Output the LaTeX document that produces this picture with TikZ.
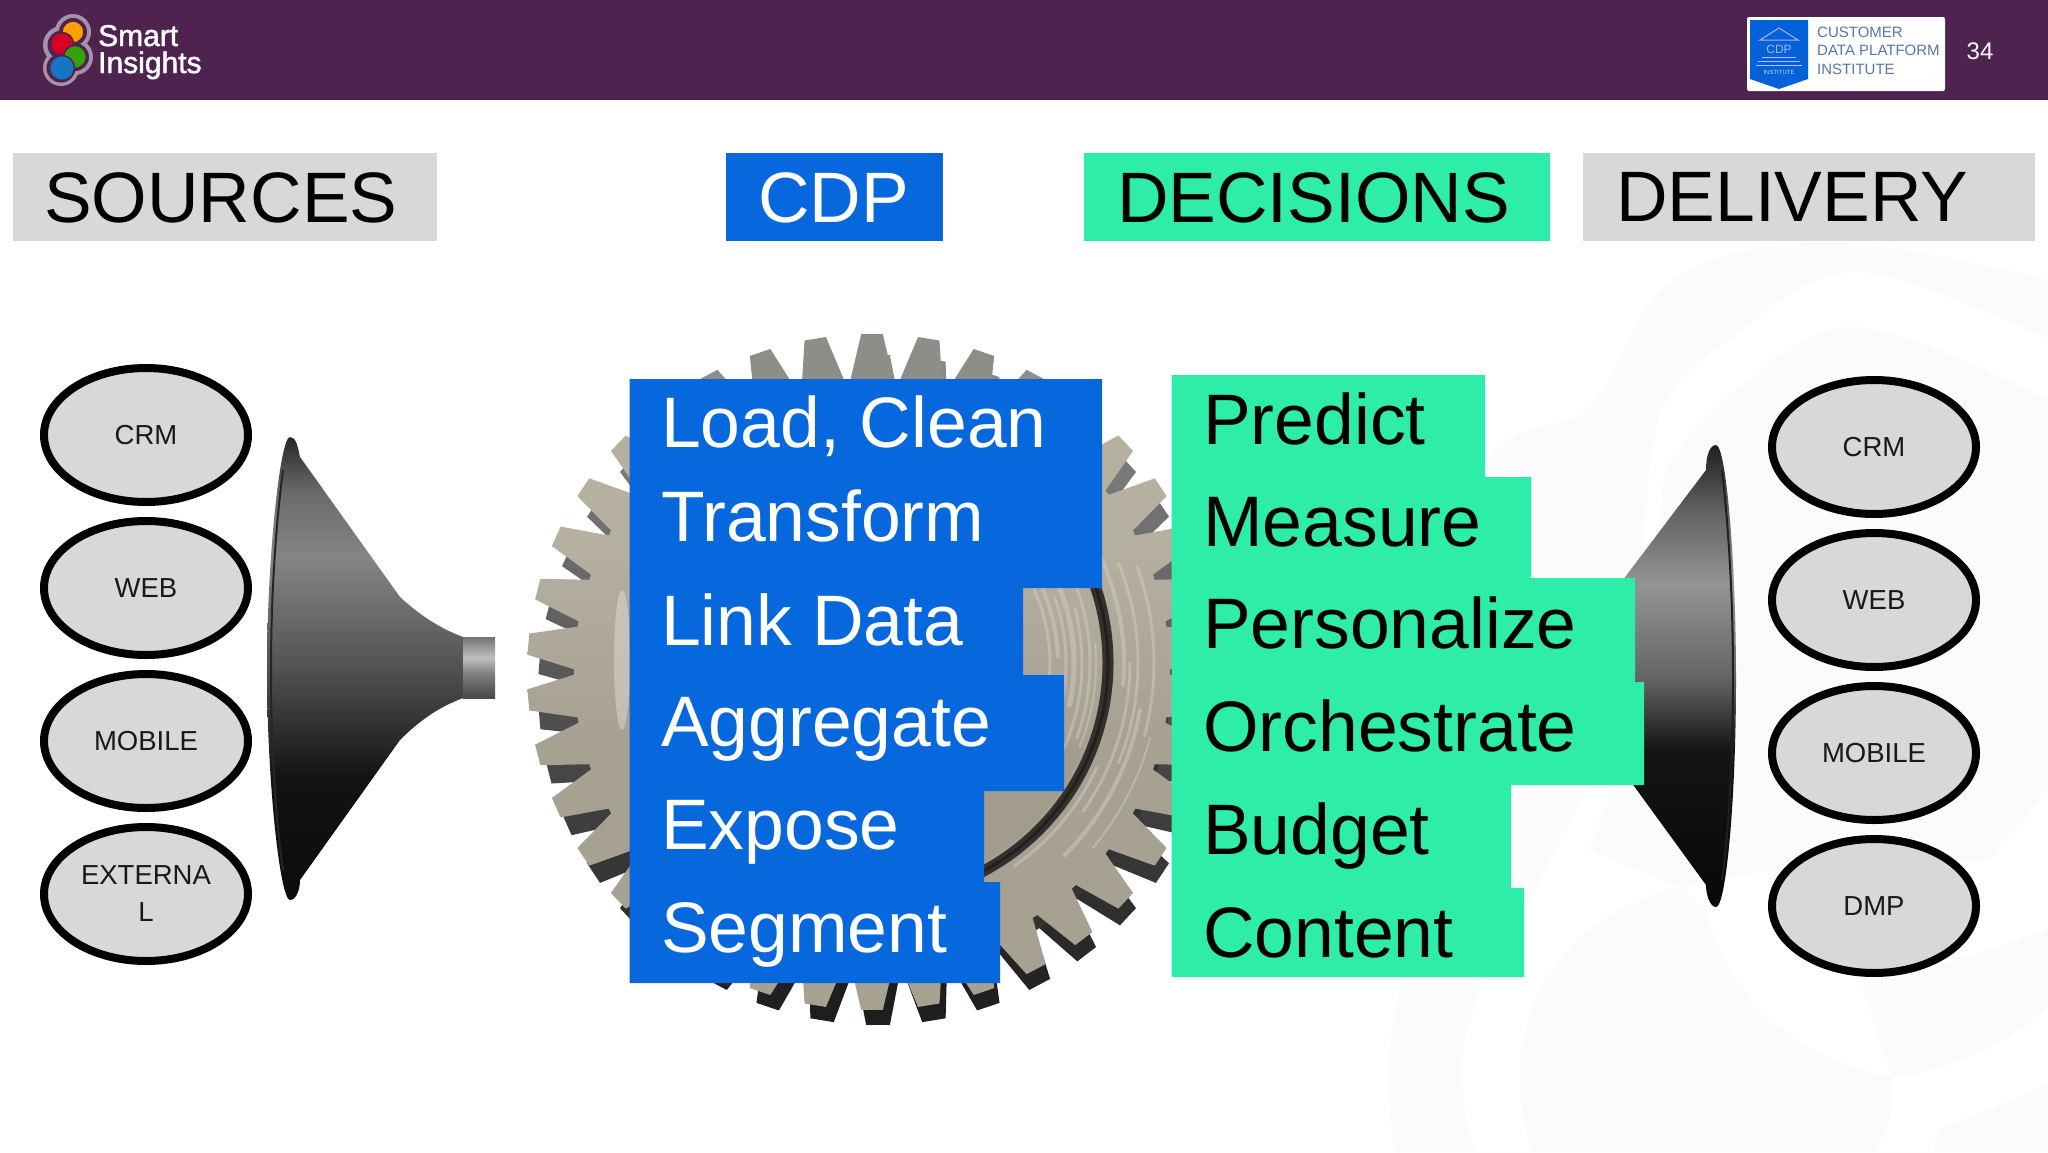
\documentclass[tikz,border=0pt]{standalone}
\usepackage{fontspec}
\setmainfont{Liberation Sans}
\newfontfamily\logofont[FakeBold=1.5]{Liberation Sans}
\usetikzlibrary{shapes.geometric}
\definecolor{headerc}{HTML}{4F2350}
\definecolor{boxgrey}{HTML}{D9D7DA}
\definecolor{cdpblue}{HTML}{0768DD}
\definecolor{decgreen}{HTML}{2DEDA8}
\definecolor{faint}{HTML}{FBFAFC}
\definecolor{logotext}{HTML}{5577AC}
\pgfdeclareverticalshading{funnelL}{100bp}{color(0bp)=(black!95);color(25bp)=(black!95);color(38bp)=(black!93);color(50bp)=(black!68);color(62bp)=(black!48);color(69bp)=(black!58);color(75bp)=(black!85);color(100bp)=(black!85)}
\pgfdeclareverticalshading{funnelR}{100bp}{color(0bp)=(black!97);color(25bp)=(black!97);color(42bp)=(black!92);color(50bp)=(black!60);color(60bp)=(black!42);color(68bp)=(black!62);color(75bp)=(black!88);color(100bp)=(black!88)}
\pgfdeclareverticalshading{spout}{100bp}{color(0bp)=(black!72);color(25bp)=(black!72);color(45bp)=(black!50);color(58bp)=(black!25);color(75bp)=(black!55);color(100bp)=(black!55)}
\definecolor{geartan}{HTML}{B6B0A0}
\definecolor{gearlow}{HTML}{A7A192}
\definecolor{geartop}{HTML}{8E8D88}
\pgfdeclareverticalshading{gearface}{100bp}{color(0bp)=(gearlow);color(25bp)=(gearlow);color(45bp)=(gearlow);color(60bp)=(geartan);color(69bp)=(geartan);color(71bp)=(geartop);color(75bp)=(geartop);color(100bp)=(geartop)}
\tikzset{
  titlebox/.style={minimum height=88pt,inner sep=0pt,anchor=north west,font=\fontsize{71.4}{72}\selectfont,text depth=0pt},
  listtext/.style={anchor=base west,inner sep=0pt,font=\fontsize{71.5}{72}\selectfont},
  bubble/.style={ellipse,draw=black,line width=8pt,fill=boxgrey,minimum width=204pt,minimum height=134pt,inner sep=0pt,align=center,font=\fontsize{27.5}{37}\selectfont,text=black!90},
  logotxt/.style={anchor=base west,inner sep=0pt,text=logotext,font=\fontsize{15}{15}\selectfont},
  halo/.style={circle,fill=white!50!headerc,inner sep=0pt},
  halodark/.style={circle,fill=headerc,inner sep=0pt},
  dot/.style={circle,draw=headerc,line width=1.5pt,inner sep=0pt},
  brandtext/.style={anchor=base west,inner sep=0pt,text=white,font=\logofont\fontsize{30}{30}\selectfont},
}
\begin{document}
\begin{tikzpicture}[x=1pt,y=-1pt]
\useasboundingbox (0,0) rectangle (2048,1152);
\fill[white] (0,0) rectangle (2048,1152);
% watermark
\begin{scope}
\clip (0,100) rectangle (2048,1152);
\fill[faint] plot[smooth,tension=.6] coordinates {(1395,1152) (1388,1070) (1401,980) (1440,760) (1483,472) (1590,406) (1672,281) (1830,242) (2048,280)} -- (2048,1152) -- cycle;
\fill[white] plot[smooth,tension=.6] coordinates {(1475,1152) (1461,1070) (1484,980) (1540,880) (1620,700) (1652,455) (1669,397) (1730,339) (1855,272) (2048,339)} -- (2048,1152) -- cycle;
\fill[faint] plot[smooth,tension=.6] coordinates {(1665,470) (1730,395) (1855,327) (2048,400)} -- (2048,790) -- (1990,860) -- (1770,870) -- (1706,883) -- (1680,887) -- (1590,850) -- (1640,700) -- cycle;
\fill[faint] (1532,1152) .. controls (1510,1090) and (1517,1010) .. (1560,960) .. controls (1590,920) and (1640,895) .. (1680,887) -- (1706,913) .. controls (1730,1000) and (1800,1060) .. (1891,1077) .. controls (1895,1110) and (1885,1135) .. (1875,1152) -- cycle;
\fill[faint] (1862,983) -- (1891,1077) .. controls (1920,1075) and (1990,1060) .. (2048,1007) -- (2048,930) -- (1960,960) -- cycle;
\fill[faint] (1933,1152) .. controls (1935,1140) and (1938,1135) .. (1942,1127) .. controls (1980,1115) and (2015,1100) .. (2048,1083) -- (2048,1152) -- cycle;
\end{scope}
% header
\fill[headerc] (0,0) rectangle (2048,100);
\node[halo,minimum size=36pt] (halo1) at (73,32) {};
\node[halo,minimum size=38pt] (halo2) at (62,45) {};
\node[halo,minimum size=36pt] (halo3) at (75,57) {};
\node[halo,minimum size=36pt] (halo4) at (61,68) {};
\node[halodark,minimum size=28pt] (dark1) at (73,32) {};
\node[halodark,minimum size=29pt] (dark2) at (62,45) {};
\node[halodark,minimum size=28pt] (dark3) at (75,57) {};
\node[halodark,minimum size=29pt] (dark4) at (61,68) {};
\node[dot,fill=orange!75!yellow,minimum size=22pt] (dotO) at (73,32) {};
\node[dot,fill=red!85!blue,minimum size=23pt] (dotR) at (62,44) {};
\node[dot,fill=green!55!black!80!yellow,minimum size=23pt] (dotG) at (75,57) {};
\node[dot,fill=cyan!55!blue,minimum size=25pt] (dotB) at (62,68) {};
\node[brandtext] (smart) at (98,46) {Smart};
\node[brandtext] (insights) at (98,73) {Insights};
\fill[white,rounded corners=2pt] (1747,17) rectangle (1945,91);
\fill[blue!55!cyan!85!black] (1750,20) -- (1808,20) -- (1808,79) -- (1779,89) -- (1750,79) -- cycle;
\draw[white!70!blue,line width=1pt] (1779,28) -- (1798,40) -- (1760,40) -- cycle;
\draw[white!75!blue,line width=1pt] (1762,57) -- (1796,57) (1758,61) -- (1800,61) (1756,65) -- (1802,65);
\node[inner sep=0pt,text=white!70!blue,font=\fontsize{12}{12}\selectfont] (cdpicon) at (1779,49) {CDP};
\node[inner sep=0pt,text=white!80!blue,font=\fontsize{6}{6}\selectfont] (cdpinst) at (1779,72) {INSTITUTE};
\node[logotxt] (lg1) at (1817,37) {CUSTOMER};
\node[logotxt] (lg2) at (1817,55) {DATA PLATFORM};
\node[logotxt] (lg3) at (1817,74) {INSTITUTE};
\node[anchor=center,inner sep=0pt,text=white,font=\fontsize{24}{24}\selectfont] (pageno) at (1980,51) {34};
% titles
\node[titlebox,fill=boxgrey,minimum width=424pt,text width=392pt] (tSources) at (13,153) {\hspace*{15pt}SOURCES};
\node[titlebox,fill=cdpblue,text=white,minimum width=217pt,text width=185pt] (tCdp) at (726,153) {\hspace*{16pt}CDP};
\node[titlebox,fill=decgreen,minimum width=466pt,text width=434pt] (tDecisions) at (1084,153) {\hspace*{17pt}DECISIONS};
\node[titlebox,fill=boxgrey,minimum width=452pt,text width=420pt] (tDelivery) at (1583,153) {\hspace*{17pt}DELIVERY};
% gear: back teeth
\begin{scope}[shift={(878,690)}]
\foreach \i in {0,...,37}{
  \pgfmathsetmacro{\ga}{90+\i*360/38}
  \pgfmathtruncatemacro{\gv}{138-108*(1+sin(\ga))/2}
  \definecolor{tc}{RGB}{\gv,\gv,\gv}
  \fill[tc] ({\ga-4.3}:290 and 285) -- ({\ga-2}:340 and 335) -- ({\ga+2}:340 and 335) -- ({\ga+4.3}:290 and 285) -- cycle;
}
\fill[black!80] (0,0) ellipse (291 and 286);
\end{scope}
% gear: face
\begin{scope}[shift={(872,672)}]
\shade[shading=gearface] ({90-4.2}:298 and 292) \foreach \i in {0,...,37}{
   -- ({90+\i*360/38-4.2}:298 and 292) -- ({90+\i*360/38-1.8}:345 and 338) -- ({90+\i*360/38+1.8}:345 and 338) -- ({90+\i*360/38+4.2}:298 and 292)
  } -- cycle;
\end{scope}
\fill[white,opacity=.3] (622,660) ellipse (8 and 70);
% gear: brushed streaks and groove
\begin{scope}[shift={(872,663)},line cap=round]
\fill[gearlow!97!black] (0,0) ++(22:228) arc[start angle=22,end angle=78,radius=228] -- (0,0) -- cycle;
\foreach \r/\sa/\sb/\w in {178/-25/15/3,186/-30/-2/4,194/-20/25/3,202/-28/12/5,210/-15/30/3,218/-30/20/3,224/-5/22/2,252/-25/5/4,258/0/35/3,266/-22/22/3,272/10/45/4,282/-20/15/3,288/15/40/2,248/25/55/3}
  \draw[white!40!geartan,line width=\w pt,opacity=.45] (\sa:\r) arc[start angle=\sa,end angle=\sb,radius=\r];
\draw[black!72!geartan,line width=11pt] (0,0) circle (236);
\draw[black!82!geartan,line width=3pt] (0,0) circle (236);
\end{scope}
% funnels
\shade[shading=funnelL] (290,437) .. controls (280,437) and (267,560) .. (267,670) .. controls (267,780) and (280,900) .. (290,900) .. controls (296,900) and (300,890) .. (300,880) -- (400,740) .. controls (425,715) and (445,705) .. (463,698) -- (463,637) .. controls (445,630) and (425,620) .. (400,597) -- (300,457) .. controls (298,447) and (296,437) .. (290,437) -- cycle;
\draw[black!85,line width=2pt] (283,470) .. controls (274,540) and (271,610) .. (271,670) .. controls (271,730) and (274,810) .. (283,870);
\shade[shading=spout] (463,637) -- (495,637) -- (495,698) -- (463,698) -- cycle;
\shade[shading=funnelR] (1716,445) .. controls (1726,445) and (1736,560) .. (1736,680) .. controls (1736,800) and (1726,907) .. (1716,907) .. controls (1710,907) and (1706,895) .. (1706,885) -- (1610,753) -- (1610,597) -- (1706,470) .. controls (1706,455) and (1710,445) .. (1716,445) -- cycle;
\draw[black!88,line width=2pt] (1722,470) .. controls (1730,540) and (1733,610) .. (1733,680) .. controls (1733,750) and (1730,820) .. (1722,880);
% lists
\fill[cdpblue] (629.5,379) -- (1102,379) -- (1102,588) -- (1023,588) -- (1023,675) -- (1064,675) -- (1064,791) -- (984,791) -- (984,882) -- (1000,882) -- (1000,983) -- (629.5,983) -- cycle;
\fill[decgreen] (1171.5,375) -- (1485,375) -- (1485,477) -- (1531,477) -- (1531,578) -- (1635,578) -- (1635,682) -- (1644,682) -- (1644,785) -- (1511,785) -- (1511,888) -- (1524,888) -- (1524,977) -- (1171.5,977) -- cycle;
\foreach \nm/\tx/\yy in {b1/{Load, Clean}/447,b2/Transform/541,b3/Link Data/645,b4/Aggregate/746,b5/Expose/849,b6/Segment/952}
  \node[listtext,text=white] (\nm) at (661,\yy) {\tx};
\foreach \nm/\tx/\yy in {g1/Predict/444,g2/Measure/546,g3/Personalize/648,g4/Orchestrate/751,g5/Budget/854,g6/Content/957}
  \node[listtext,text=black] (\nm) at (1203,\yy) {\tx};
% bubbles
\node[bubble] (s1) at (146,435) {CRM};
\node[bubble] (s2) at (146,588) {WEB};
\node[bubble] (s3) at (146,741) {MOBILE};
\node[bubble] (s4) at (146,894) {EXTERNA\\L};
\node[bubble] (d1) at (1874,447) {CRM};
\node[bubble] (d2) at (1874,600) {WEB};
\node[bubble] (d3) at (1874,753) {MOBILE};
\node[bubble] (d4) at (1874,906) {DMP};
\end{tikzpicture}
\end{document}
